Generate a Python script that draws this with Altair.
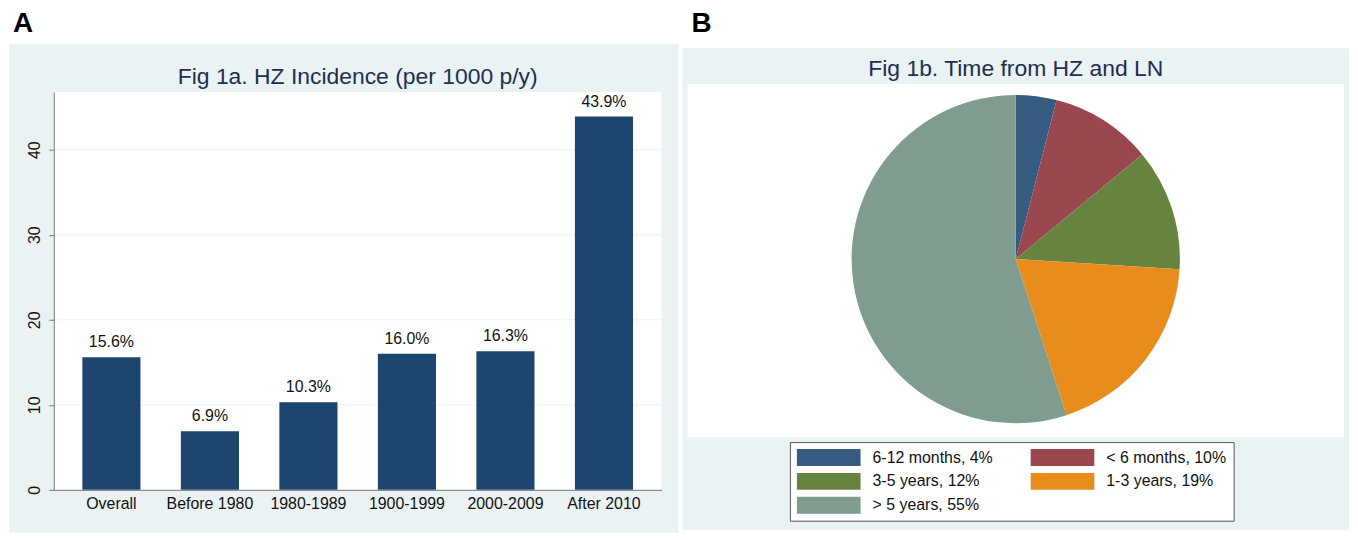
import altair as alt
import pandas as pd

# ---- data ----
categories = ["Overall", "Before 1980", "1980-1989", "1900-1999", "2000-2009", "After 2010"]
incidence = [15.6, 6.9, 10.3, 16.0, 16.3, 43.9]
bar_labels = ["15.6%", "6.9%", "10.3%", "16.0%", "16.3%", "43.9%"]
y_ticks = [0, 10, 20, 30, 40]
grid_values = [10, 20, 30, 40]

pie_labels = ["6-12 months, 4%", "< 6 months, 10%", "3-5 years, 12%", "1-3 years, 19%", "> 5 years, 55%"]
pie_values = [4, 10, 12, 19, 55]
pie_colors = ["#375b80", "#9a4750", "#66843f", "#e88d1c", "#7f9c8f"]

title_a = "Fig 1a. HZ Incidence (per 1000 p/y)"
title_b = "Fig 1b. Time from HZ and LN"

# ---- style ----
BG = "#eaf2f3"
BAR = "#1c4670"
TITLE_C = "#1e2f50"
AXIS_C = "#777777"
FONT = "Liberation Sans"

one = pd.DataFrame({"k": [0]})

# ================= Panel A =================
W1, H1 = 611, 400
bars_df = pd.DataFrame({"category": categories, "value": incidence, "label": bar_labels})
grid_df = pd.DataFrame({"g": grid_values})
yscale = alt.Scale(domain=[0, 46.8], nice=False, zero=True)
xscale = alt.Scale(paddingInner=0.41, paddingOuter=0.29)

y_axis = alt.Axis(values=y_ticks, title=None, grid=False, labelAngle=270,
                  labelAlign="center", labelBaseline="bottom",
                  tickSize=5, tickColor=AXIS_C, domainColor=AXIS_C,
                  labelFontSize=16, labelColor="#111", labelPadding=6,
                  labelFont=FONT, zindex=1)
x_axis = alt.Axis(title=None, labelAngle=0, ticks=False, domainColor=AXIS_C,
                  labelFontSize=16, labelColor="#111", labelPadding=6,
                  labelFont=FONT, zindex=1)

bg_a = alt.Chart(one).mark_rect(color=BG).encode(
    x=alt.value(-45), x2=alt.value(628), y=alt.value(-48), y2=alt.value(443))
white_a = alt.Chart(one).mark_rect(color="white").encode(
    x=alt.value(0), x2=alt.value(W1), y=alt.value(0), y2=alt.value(H1))
grid_a = alt.Chart(grid_df).mark_rule(color=BG, strokeWidth=1).encode(
    y=alt.Y("g:Q", scale=yscale, axis=y_axis))
bars_a = alt.Chart(bars_df).mark_bar(color=BAR).encode(
    x=alt.X("category:N", sort=categories, scale=xscale, axis=x_axis),
    y=alt.Y("value:Q", scale=yscale, axis=y_axis))
text_a = alt.Chart(bars_df).mark_text(fontSize=16, dy=-10, baseline="alphabetic",
                                      color="#111", font=FONT).encode(
    x=alt.X("category:N", sort=categories, scale=xscale, axis=x_axis),
    y=alt.Y("value:Q", scale=yscale, axis=y_axis),
    text="label:N")
ttl_a = alt.Chart(one).mark_text(text=title_a, fontSize=23, color=TITLE_C, font=FONT,
                                 align="center", baseline="alphabetic").encode(
    x=alt.value(W1 / 2), y=alt.value(-8))
lab_a = alt.Chart(one).mark_text(text="A", fontSize=28, fontWeight="bold", color="black",
                                 font=FONT, align="left", baseline="top").encode(
    x=alt.value(-41), y=alt.value(-82))

left = alt.layer(bg_a, white_a, grid_a, bars_a, text_a, ttl_a, lab_a).properties(
    width=W1, height=H1)

# ================= Panel B =================
W2, H2 = 660, 347
pie_df = pd.DataFrame({"label": pie_labels, "value": pie_values, "idx": list(range(len(pie_labels)))})

bg_b = alt.Chart(one).mark_rect(color=BG).encode(
    x=alt.value(-5), x2=alt.value(665), y=alt.value(-44), y2=alt.value(440))
white_b = alt.Chart(one).mark_rect(color="white").encode(
    x=alt.value(0), x2=alt.value(W2), y=alt.value(-8), y2=alt.value(H2))
pie = alt.Chart(pie_df).mark_arc(radius=165).encode(
    theta=alt.Theta("value:Q", stack=True),
    order=alt.Order("idx:Q"),
    color=alt.Color("label:N",
                    scale=alt.Scale(domain=pie_labels, range=pie_colors),
                    legend=alt.Legend(orient="none", legendX=103, legendY=352, columns=2,
                                      title=None, direction="horizontal",
                                      symbolType="M-1,-1L6.53,-1L6.53,1L-1,1Z",
                                      symbolSize=289, symbolStrokeWidth=0, symbolOpacity=1,
                                      labelFontSize=16, labelFont=FONT, labelColor="#111",
                                      labelOffset=59, columnPadding=38, rowPadding=7,
                                      padding=7, strokeColor="#555555", fillColor="white",
                                      labelLimit=300)),
    x=alt.value(330), y=alt.value(168))
ttl_b = alt.Chart(one).mark_text(text=title_b, fontSize=23, color=TITLE_C, font=FONT,
                                 align="center", baseline="alphabetic").encode(
    x=alt.value(330), y=alt.value(-16))
lab_b = alt.Chart(one).mark_text(text="B", fontSize=28, fontWeight="bold", color="black",
                                 font=FONT, align="left", baseline="top").encode(
    x=alt.value(4), y=alt.value(-82))

right = alt.layer(bg_b, white_b, pie, ttl_b, lab_b).properties(width=W2, height=H2)

chart = alt.hconcat(left, right, spacing=2, padding=0).resolve_scale(
    color="independent").resolve_legend(color="independent").configure_view(
    stroke="transparent").configure(font=FONT)

chart.save("out.html", embed_options={"renderer": "svg", "actions": False})
